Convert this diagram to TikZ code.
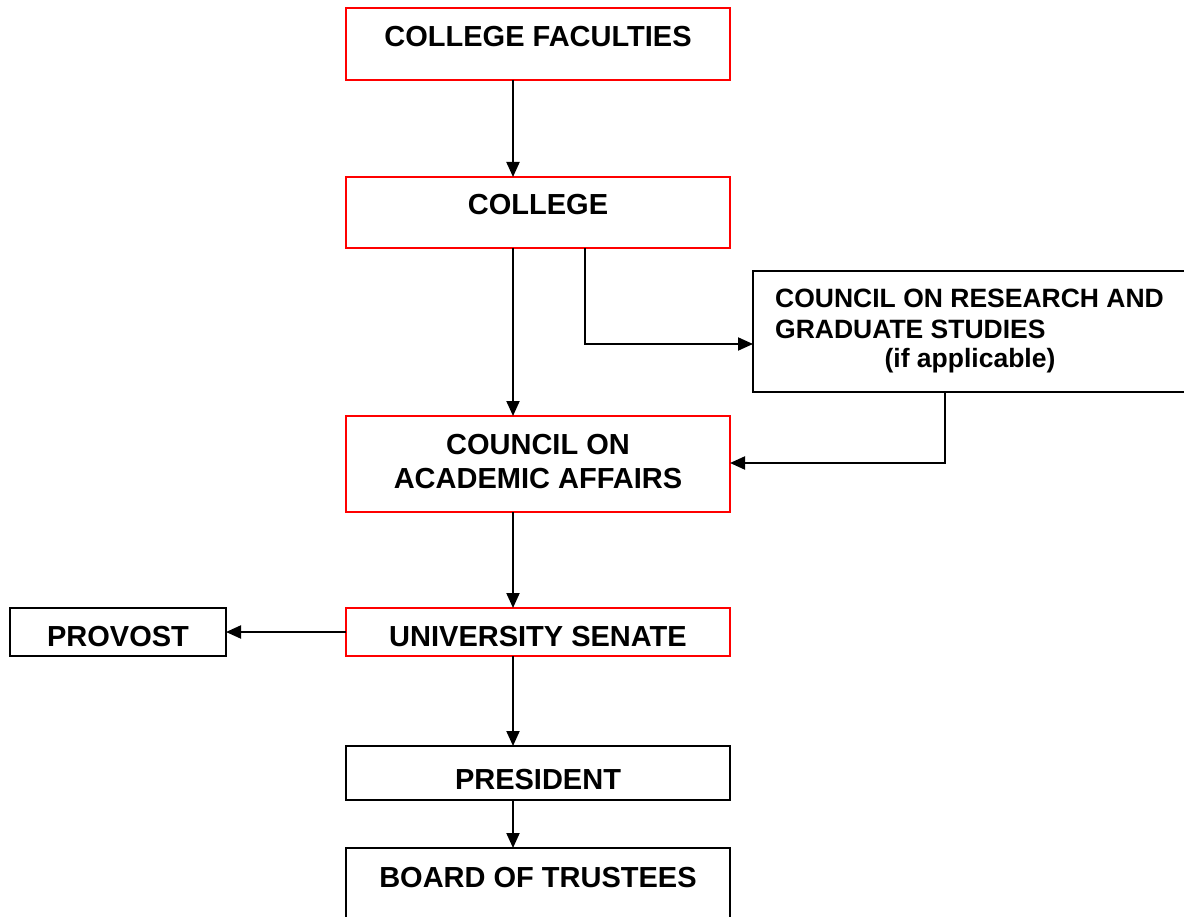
\documentclass[tikz,border=0pt]{standalone}
\usepackage{fontspec}
\setmainfont{Liberation Sans}
\usetikzlibrary{arrows.meta}
\begin{document}
\begin{tikzpicture}[x=1pt,y=-1pt,
  redbox/.style={draw=red,line width=2pt},
  blackbox/.style={draw=black,line width=2pt},
  lbl/.style={inner sep=0pt,anchor=base,font=\fontsize{29}{34}\selectfont\bfseries},
  slbl/.style={inner sep=0pt,anchor=base west,font=\fontsize{26.5}{31}\selectfont\bfseries},
  conn/.style={line width=2pt,-{Triangle[length=15pt,width=13pt]}}]
\useasboundingbox (0,0) rectangle (1184,917);
% boxes
\path[redbox] (346,8) rectangle (730,80);
\coordinate (cfT) at (513,80);
\path[redbox] (346,177) rectangle (730,248);
\path[blackbox] (753,271) rectangle (1190,392);
\path[redbox] (346,416) rectangle (730,512);
\path[redbox] (346,608) rectangle (730,656);
\path[blackbox] (10,608) rectangle (226,656);
\path[blackbox] (346,746) rectangle (730,800);
\path[blackbox] (346,848) rectangle (730,925);
% named anchor coordinates
\coordinate (cfB) at (513,80);
\coordinate (colT) at (513,177);
\coordinate (colB) at (513,248);
\coordinate (colB2) at (585,248);
\coordinate (crgsL) at (753,344);
\coordinate (crgsB) at (945,392);
\coordinate (caaT) at (513,416);
\coordinate (caaR) at (730,463);
\coordinate (caaB) at (513,512);
\coordinate (senT) at (513,608);
\coordinate (senL) at (346,632);
\coordinate (senB) at (513,656);
\coordinate (provR) at (226,632);
\coordinate (presT) at (513,746);
\coordinate (presB) at (513,800);
\coordinate (botT) at (513,848);
% texts
\node[lbl] (tcf) at (538,47) {COLLEGE FACULTIES};
\node[lbl] (tcol) at (538,215) {COLLEGE};
\node[slbl] (tcr1) at (775,308) {COUNCIL ON RESEARCH AND};
\node[slbl] (tcr2) at (775,339) {GRADUATE STUDIES};
\node[inner sep=0pt,anchor=base,font=\fontsize{26.5}{31}\selectfont\bfseries] (tcr3) at (970,368) {(if applicable)};
\node[lbl] (tca1) at (538,454) {COUNCIL ON};
\node[lbl] (tca2) at (538,488) {ACADEMIC AFFAIRS};
\node[lbl] (tsen) at (538,646) {UNIVERSITY SENATE};
\node[lbl] (tprov) at (118,646) {PROVOST};
\node[lbl] (tpres) at (538,789) {PRESIDENT};
\node[lbl] (tbot) at (538,887) {BOARD OF TRUSTEES};
% connectors
\draw[conn] (cfB) -- (colT);
\draw[conn] (colB) -- (caaT);
\draw[conn] (colB2) |- (crgsL);
\draw[conn] (crgsB) |- (caaR);
\draw[conn] (caaB) -- (senT);
\draw[conn] (senL) -- (provR);
\draw[conn] (senB) -- (presT);
\draw[conn] (presB) -- (botT);
\end{tikzpicture}
\end{document}
